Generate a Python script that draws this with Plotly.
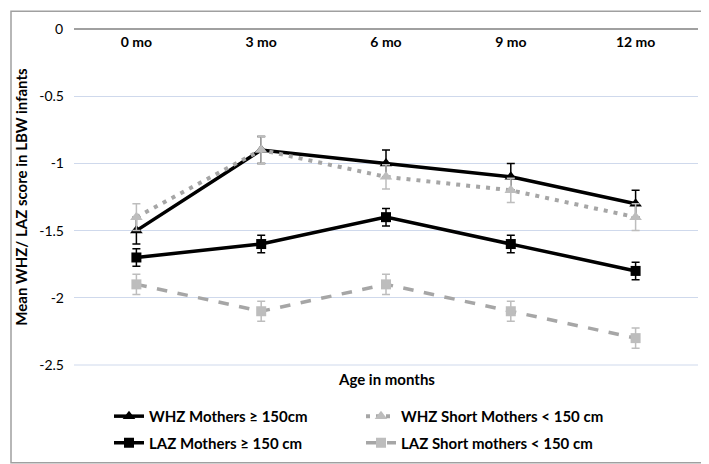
import plotly.graph_objects as go

categories = ["0 mo", "3 mo", "6 mo", "9 mo", "12 mo"]
whz_tall = [-1.5, -0.9, -1.0, -1.1, -1.3]
whz_tall_err = [0.1, 0.1, 0.1, 0.1, 0.1]
whz_short = [-1.4, -0.9, -1.1, -1.2, -1.4]
whz_short_err = [0.1, 0.1, 0.09, 0.09, 0.1]
laz_tall = [-1.7, -1.6, -1.4, -1.6, -1.8]
laz_tall_err = [0.065, 0.065, 0.065, 0.065, 0.065]
laz_short = [-1.9, -2.1, -1.9, -2.1, -2.3]
laz_short_err = [0.075, 0.075, 0.075, 0.075, 0.075]
y_ticks = [0, -0.5, -1, -1.5, -2, -2.5]
y_tick_labels = ["0", "-0.5", "-1", "-1.5", "-2", "-2.5"]

FONT = "Lato"
GREY_LINE = "#a6a6a6"
GREY_MARK = "#bdbdbd"
GRID = "#cfd9ec"

fig = go.Figure()

fig.add_trace(go.Scatter(
    x=categories, y=whz_tall, name="WHZ Mothers \u2265 150cm", mode="lines+markers",
    line=dict(color="black", width=3.5),
    marker=dict(symbol="triangle-up", size=11, color="black"),
    error_y=dict(type="data", array=whz_tall_err, color="black", thickness=1.5, width=4),
    legend="legend", showlegend=True))
fig.add_trace(go.Scatter(
    x=categories, y=whz_short, name="WHZ Short Mothers < 150 cm", mode="lines+markers",
    line=dict(color=GREY_LINE, width=4, dash="4px,6px"),
    marker=dict(symbol="triangle-up", size=11, color=GREY_MARK),
    error_y=dict(type="data", array=whz_short_err, color=GREY_MARK, thickness=1.5, width=4),
    legend="legend2", showlegend=True))
fig.add_trace(go.Scatter(
    x=categories, y=laz_tall, name="LAZ Mothers \u2265 150 cm", mode="lines+markers",
    line=dict(color="black", width=3.5),
    marker=dict(symbol="square", size=10, color="black"),
    error_y=dict(type="data", array=laz_tall_err, color="black", thickness=1.5, width=4),
    legend="legend3", showlegend=True))
fig.add_trace(go.Scatter(
    x=categories, y=laz_short, name="LAZ Short mothers < 150 cm", mode="lines+markers",
    line=dict(color=GREY_LINE, width=3.5, dash="dash"),
    marker=dict(symbol="square", size=10, color=GREY_MARK),
    error_y=dict(type="data", array=laz_short_err, color=GREY_MARK, thickness=1.5, width=4),
    legend="legend4", showlegend=True))

L, R, T, B = 66, 19, 20, 102
W, H = 709, 464
pw, ph = W - L - R, H - T - B

def px(x):
    return (x - L) / pw

def py(y):
    return (H - B - y) / ph

legfont = dict(family=FONT, size=15, color="black", weight="bold")
def leg(x, y):
    return dict(x=px(x), y=py(y), xanchor="left", yanchor="middle",
                font=legfont, bgcolor="rgba(0,0,0,0)", borderwidth=0, itemwidth=30)

fig.update_layout(
    width=W, height=H,
    margin=dict(l=L, r=R, t=T, b=B),
    paper_bgcolor="white", plot_bgcolor="white",
    showlegend=True,
    font=dict(family=FONT, size=14, color="black"),
    xaxis=dict(type="category", side="top", range=[-0.5, 4.5],
               ticklabelposition="inside", ticks="", showgrid=False,
               showline=False, zeroline=False,
               tickfont=dict(family=FONT, size=14, color="black", weight="bold"),
               ticklabelstandoff=6),
    yaxis=dict(range=[-2.5074, 0.0074], tickvals=y_ticks, ticktext=y_tick_labels,
               showgrid=True, gridcolor=GRID, gridwidth=1, zeroline=False,
               tickfont=dict(family=FONT, size=14, color="black"),
               ticklabelstandoff=9, showline=False,
               title=dict(text="Mean WHZ/ LAZ score in LBW infants",
                          font=dict(family=FONT, size=15, color="black", weight="bold"),
                          standoff=8)),
    legend=leg(101, 413),
    legend2=leg(353, 413),
    legend3=leg(101, 440),
    legend4=leg(353, 440),
    annotations=[
        dict(text="<b>Age in months</b>", x=0.5, y=py(375), xref="paper", yref="paper",
             showarrow=False, font=dict(family=FONT, size=15, color="black"),
             xanchor="center", yanchor="middle"),
        dict(text=y_tick_labels[0], x=px(57), y=y_ticks[0], xref="paper", yref="y",
             showarrow=False, font=dict(family=FONT, size=14, color="black"),
             xanchor="right", yanchor="middle", xshift=0),
    ],
    shapes=[
        dict(type="rect", xref="paper", yref="paper",
             x0=px(3), x1=px(705), y0=py(460), y1=py(3),
             line=dict(color="#a0a0a0", width=1.5)),
        dict(type="line", xref="paper", yref="y", x0=0, x1=1,
             y0=y_ticks[-1], y1=y_ticks[-1], line=dict(color=GRID, width=1), layer="below"),
        dict(type="line", xref="paper", yref="y", x0=0, x1=1,
             y0=y_ticks[0], y1=y_ticks[0], line=dict(color="#a0a0a0", width=2), layer="below"),
    ],
)

fig.write_html("out.html")
